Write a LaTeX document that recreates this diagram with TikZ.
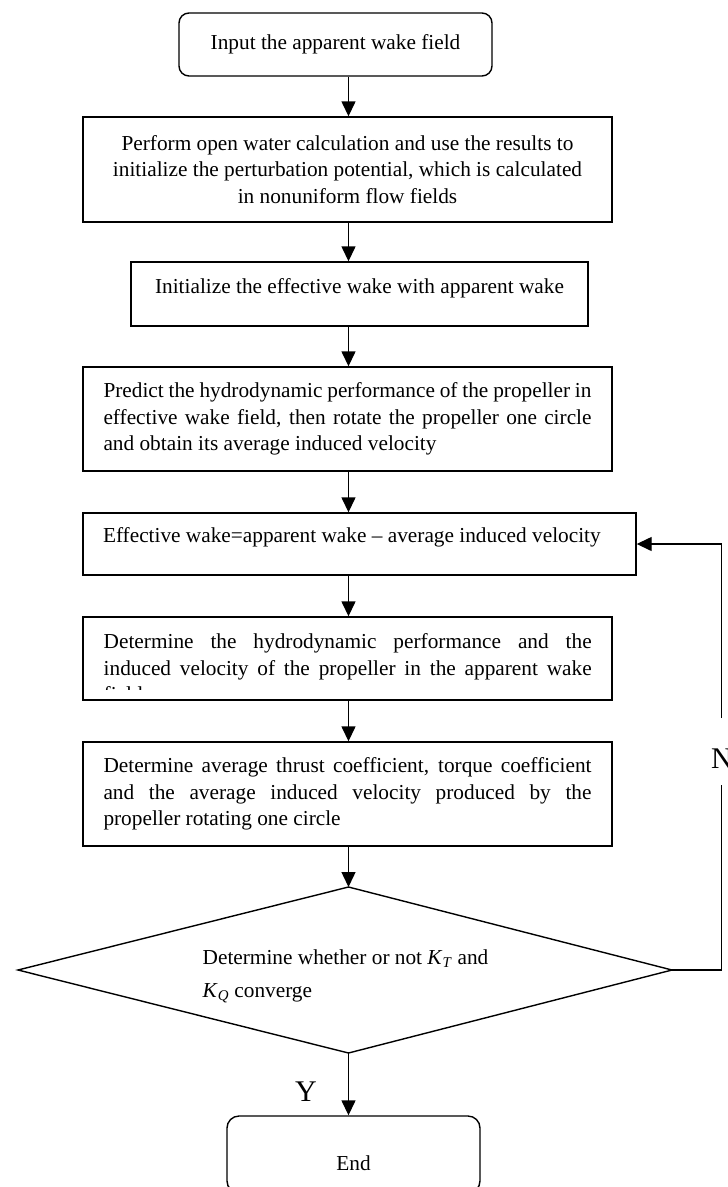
\documentclass[tikz,border=0pt]{standalone}
\usepackage{fontspec}
\setmainfont{Liberation Serif}
\usetikzlibrary{arrows.meta}
\newcommand{\jline}[1]{\makebox[488pt][s]{#1}}
\begin{document}
\begin{tikzpicture}[x=1pt,y=-1pt,
  every node/.style={font=\fontsize{21.3}{26.5}\selectfont},
  box/.style={draw, line width=1.4pt, rectangle, inner sep=0pt},
  rbox/.style={box, rounded corners=10pt},
  arr/.style={line width=1.4pt, -{Triangle[length=15pt,width=14pt]}},
  plain/.style={line width=1.4pt},
  lbl/.style={font=\fontsize{30}{36}\selectfont, inner sep=0pt}]
\useasboundingbox (0,0) rectangle (728,1187);

\coordinate (ax) at (348.5,0);
\coordinate (lx) at (721.5,0);
\coordinate (nlo) at (721.5,785);
\coordinate (nhi) at (721.5,718);

\node[rbox, minimum width=313pt, minimum height=63pt] (b1) at (335.5,44.5)
  {Input the apparent wake field};

\node[box, minimum width=529pt, minimum height=105pt, align=center] (b2) at (347.5,169.5)
  {Perform open water calculation and use the results to\\
   initialize the perturbation potential, which is calculated\\
   in nonuniform flow fields};

\node[box, minimum width=457pt, minimum height=64pt, text depth=17pt] (b3) at (359.5,294)
  {Initialize the effective wake with apparent wake};

\node[box, minimum width=529pt, minimum height=104pt, align=left] (b4) at (347.5,419)
  {\jline{Predict the hydrodynamic performance of the propeller in}\\
   \jline{effective wake field, then rotate the propeller one circle}\\
   and obtain its average induced velocity};

\node[box, minimum width=553pt, minimum height=62pt, text depth=18.5pt] (b5) at (359.5,544)
  {\makebox[513pt][l]{Effective wake=apparent wake – average induced velocity}};

\node[box, minimum width=529pt, minimum height=83pt] (b6) at (347.5,658.5) {};
\begin{scope}
  \clip (84,618) rectangle (611,689.5);
  \node[anchor=north west, inner sep=0pt, align=left] (t6) at (103.5,633.5)
    {\jline{Determine the hydrodynamic performance and the}\\
     \jline{induced velocity of the propeller in the apparent wake}\\
     field};
\end{scope}

\node[box, minimum width=529pt, minimum height=104pt, align=left] (b7) at (347.5,794)
  {\jline{Determine average thrust coefficient, torque coefficient}\\
   \jline{and the average induced velocity produced by the}\\
   propeller rotating one circle};

% decision diamond
\coordinate (dtop) at (348.5,887);
\coordinate (dright) at (672,970);
\coordinate (dbot) at (348.5,1053);
\coordinate (dleft) at (18,970);
\draw[plain, line join=miter] (dtop) -- (dright) -- (dbot) -- (dleft) -- cycle;
\node[align=left, inner sep=0pt] (dtext) at (345.5,976.5)
  {Determine whether or not \textit{K}\textsubscript{\textit{T}} and\\[6.5pt]
   \textit{K}\textsubscript{\textit{Q}} converge};

\node[rbox, rounded corners=12pt, minimum width=253pt, minimum height=77pt, text height=33pt] (end) at (353.5,1154.5) {End};

\node[lbl] (ylab) at (306,1092) {Y};
\node[lbl] (nlab) at (722,759) {N};

\draw[arr] (b1.south -| ax) -- (b2.north -| ax);
\draw[arr] (b2.south -| ax) -- (b3.north -| ax);
\draw[arr] (b3.south -| ax) -- (b4.north -| ax);
\draw[arr] (b4.south -| ax) -- (b5.north -| ax);
\draw[arr] (b5.south -| ax) -- (b6.north -| ax);
\draw[arr] (b6.south -| ax) -- (b7.north -| ax);
\draw[arr] (b7.south -| ax) -- (dtop);
\draw[arr] (dbot) -- (end.north -| ax);

\draw[plain] (dright) -- (dright -| lx) -- (nlo);
\draw[arr] (nhi) -- (lx |- b5.east) -- (b5.east);
\end{tikzpicture}
\end{document}
